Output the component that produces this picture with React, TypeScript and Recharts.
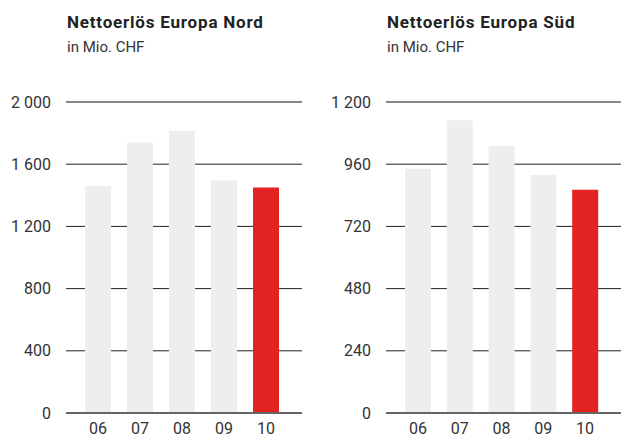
import React from 'react';
import { BarChart, Bar, XAxis, YAxis, CartesianGrid, ReferenceLine, Cell } from 'recharts';

const years = ['06', '07', '08', '09', '10'];
const nordValues = [1460, 1740, 1815, 1495, 1450];
const suedValues = [942, 1130, 1030, 918, 861];
const nordTicks = [0, 400, 800, 1200, 1600, 2000];
const suedTicks = [0, 240, 480, 720, 960, 1200];

const GREY = '#eeeeee';
const RED = '#e32222';
const FONT = 'Roboto, "Noto Sans", sans-serif';

const fmt = (v: number) => String(v).replace(/\B(?=(\d{3})+(?!\d))/g, ' ');

interface PanelProps {
  title: string;
  values: number[];
  ticks: number[];
  left: number;
  width: number;
  axisWidth: number;
  rightMargin: number;
}

const Panel = ({ title, values, ticks, left, width, axisWidth, rightMargin }: PanelProps) => {
  const data = years.map((year, i) => ({ year, value: values[i] }));
  const max = ticks[ticks.length - 1];
  const titleLeft = left + axisWidth + 1;

  return (
    <>
      <div style={{ position: 'absolute', left: titleLeft, top: 12, fontSize: 17, lineHeight: '20px', fontWeight: 700, color: '#222', letterSpacing: 0.8 }}>
        {title}
      </div>
      <div style={{ position: 'absolute', left: titleLeft, top: 37, fontSize: 15, lineHeight: '20px', color: '#333' }}>
        in Mio. CHF
      </div>
      <div style={{ position: 'absolute', left, top: 0 }}>
        <BarChart width={width} height={437} data={data} margin={{ top: 102, right: rightMargin, left: 0, bottom: 0 }} barSize={26}>
          <CartesianGrid vertical={false} stroke="#222" strokeWidth={1} />
          <XAxis
            dataKey="year"
            height={24}
            tickSize={0}
            tickMargin={10}
            padding={{ left: 11, right: 15 }}
            axisLine={{ stroke: '#666', strokeWidth: 2 }}
            tick={{ fill: '#333', fontSize: 16, fontFamily: FONT }}
          />
          <YAxis
            width={axisWidth}
            domain={[0, max]}
            ticks={ticks}
            tickFormatter={fmt}
            axisLine={false}
            tickSize={0}
            tickMargin={15}
            tick={{ fill: '#333', fontSize: 16, fontFamily: FONT }}
          />
          <Bar dataKey="value" isAnimationActive={false}>
            {data.map((d, i) => (
              <Cell key={d.year} fill={i === data.length - 1 ? RED : GREY} />
            ))}
          </Bar>
          <ReferenceLine y={max} stroke="#888" strokeWidth={2} />
        </BarChart>
      </div>
    </>
  );
};

export default function App() {
  return (
    <div style={{ position: 'absolute', left: 0, top: 0, width: 621, height: 437, background: '#fff', fontFamily: FONT }}>
      <Panel title="Nettoerlös Europa Nord" values={nordValues} ticks={nordTicks} left={0} width={310} axisWidth={66} rightMargin={8} />
      <Panel title="Nettoerlös Europa Süd" values={suedValues} ticks={suedTicks} left={310} width={311} axisWidth={76} rightMargin={0} />
    </div>
  );
}
